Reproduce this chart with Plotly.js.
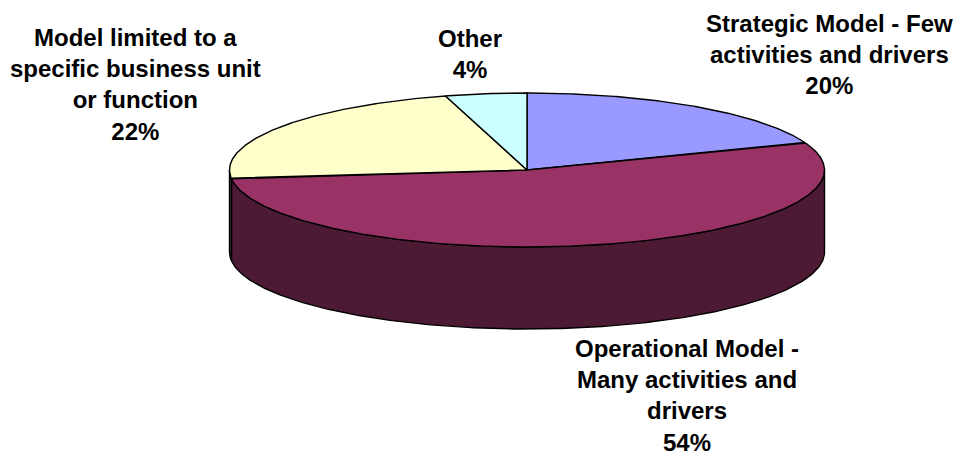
<!DOCTYPE html>
<html>
<head>
<meta charset="utf-8">
<script src="https://cdn.plot.ly/plotly-3.0.1.min.js"></script>
<style>html,body{margin:0;padding:0;background:#fff}#c{width:956px;height:452px}</style>
</head>
<body>
<div id="c"></div>
<script>
const categories = ["Strategic Model - Few<br>activities and drivers", "Operational Model -<br>Many activities and<br>drivers", "Model limited to a<br>specific business unit<br>or function", "Other"];
const shares = [20, 54, 22, 4];
const topColors = ["#9999FF", "#993366", "#FFFFCC", "#CCFFFF"];
const sideColors = ["#4D4D80", "#4D1A33", "#3A3A2E", "#668080"];
const labelX = [829, 687, 135, 470];
const labelY = [54, 395, 84, 54];

const cx = 527, cy = 170, rx = 297.5, ry = 77, depth = 82, warp = 3;
const rad = d => d * Math.PI / 180;
function project(pct) {
  const t = pct * 3.6;
  return t - warp * Math.sqrt(Math.abs(Math.sin(rad(t))));
}
function rimX(a) { return cx + rx * Math.sin(rad(a)); }
function rimY(a) { return cy - ry * Math.cos(rad(a)); }

const traces = [];
function poly(xs, ys, fill) {
  traces.push({type: "scatter", mode: "lines", x: xs, y: ys, fill: "toself", fillcolor: fill,
    line: {color: "#000", width: 1.4}, hoverinfo: "skip", showlegend: false});
}
let acc = 0;
const spans = shares.map(v => { const s = [project(acc), project(acc + v)]; acc += v; return s; });

// side walls: only the front half of the rim (90..270 deg) is visible
spans.forEach((s, i) => {
  const a0 = Math.max(s[0], 90), a1 = Math.min(s[1], 270);
  if (a1 <= a0) return;
  const xs = [], ys = [];
  for (let a = a0; a < a1; a += 0.5) { xs.push(rimX(a)); ys.push(rimY(a)); }
  xs.push(rimX(a1)); ys.push(rimY(a1));
  xs.push(rimX(a1)); ys.push(rimY(a1) + depth);
  for (let a = a1; a > a0; a -= 0.5) { xs.push(rimX(a)); ys.push(rimY(a) + depth); }
  xs.push(rimX(a0), xs[0]); ys.push(rimY(a0) + depth, ys[0]);
  poly(xs, ys, sideColors[i]);
});
// top faces
spans.forEach((s, i) => {
  const xs = [cx], ys = [cy];
  for (let a = s[0]; a < s[1]; a += 0.5) { xs.push(rimX(a)); ys.push(rimY(a)); }
  xs.push(rimX(s[1]), cx); ys.push(rimY(s[1]), cy);
  poly(xs, ys, topColors[i]);
});

const annotations = categories.map((c, i) => ({
  text: "<b>" + c + "<br>" + shares[i] + "%</b>", x: labelX[i], y: labelY[i],
  xref: "x", yref: "y", showarrow: false, align: "center", xanchor: "center", yanchor: "middle",
  font: {family: "Liberation Sans, Arial, sans-serif", size: 24, color: "#000"}
}));

Plotly.newPlot("c", traces, {
  width: 956, height: 452, margin: {l: 0, r: 0, t: 0, b: 0},
  paper_bgcolor: "#fff", plot_bgcolor: "#fff", showlegend: false,
  xaxis: {range: [0, 956], visible: false, fixedrange: true},
  yaxis: {range: [452, 0], visible: false, fixedrange: true},
  annotations
}, {displayModeBar: false, staticPlot: true});
</script>
</body>
</html>
